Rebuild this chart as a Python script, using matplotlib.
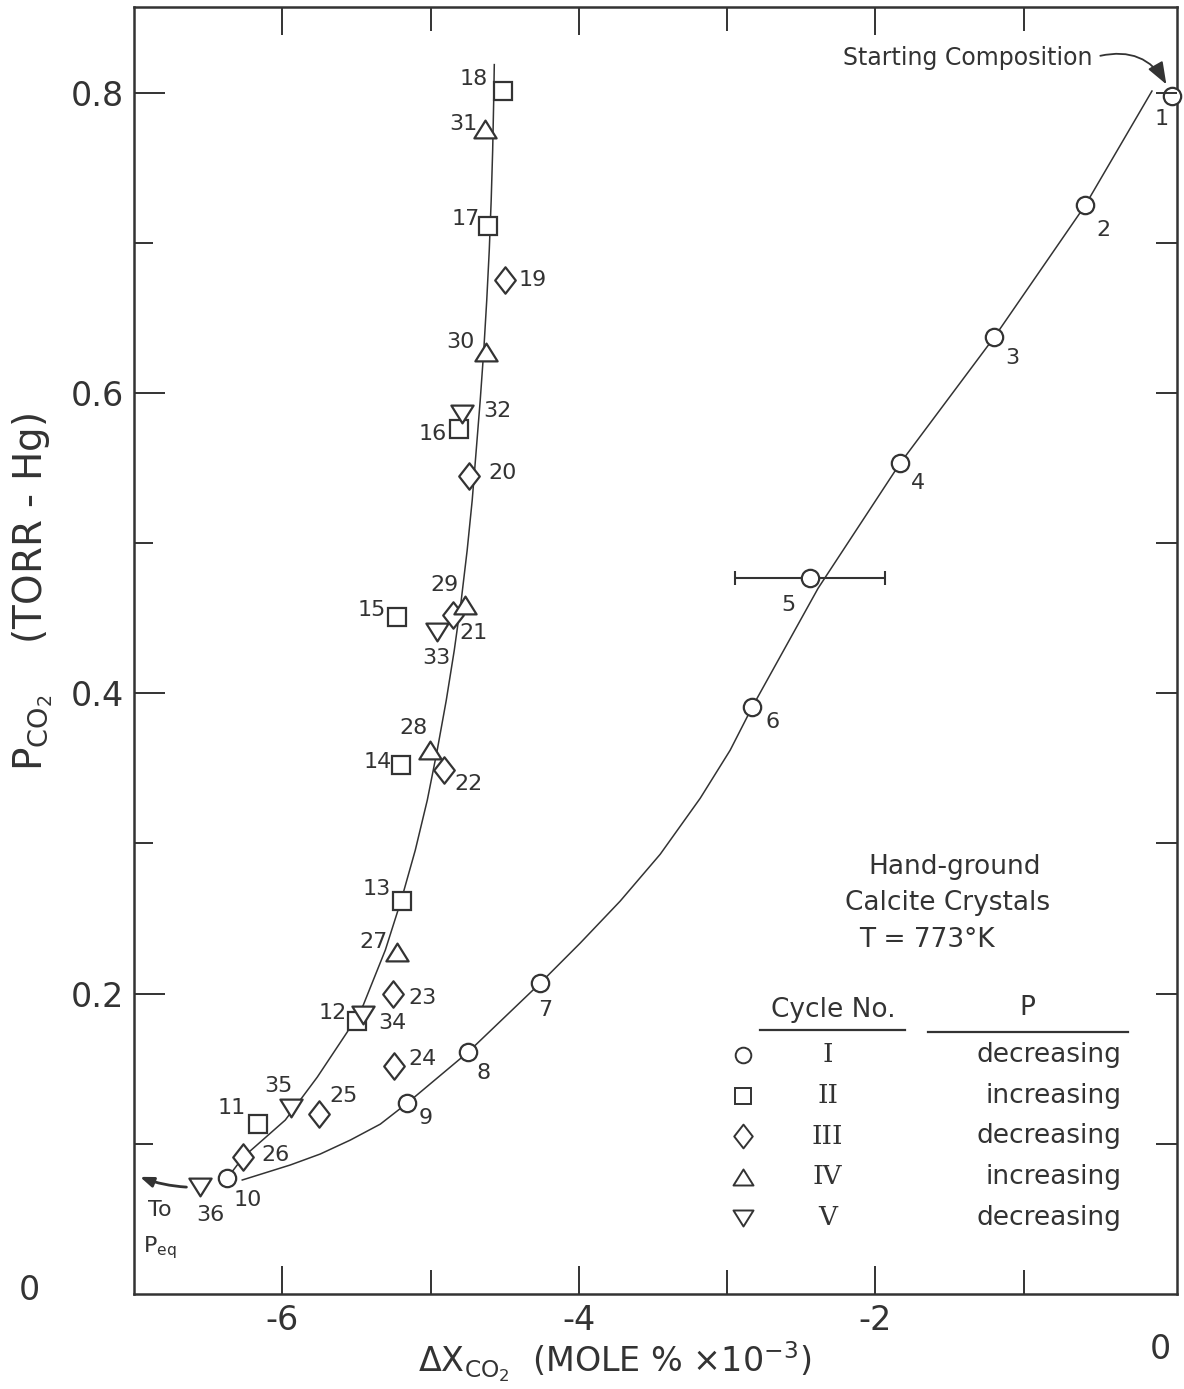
import numpy as np
import matplotlib
matplotlib.use("Agg")
import matplotlib.pyplot as plt
from matplotlib.path import Path

plt.rcParams['font.family'] = ['DejaVu Sans']
plt.rcParams['mathtext.default'] = 'regular'
plt.rcParams['axes.unicode_minus'] = False

INK = '#333333'

# Cycle I (circles), points 1-10
c1_n = [1, 2, 3, 4, 5, 6, 7, 8, 9, 10]
c1_x = [0.0, -0.585, -1.199, -1.833, -2.44, -2.831, -4.26, -4.746, -5.157, -6.371]
c1_y = [0.798, 0.725, 0.637, 0.553, 0.477, 0.391, 0.207, 0.161, 0.127, 0.077]

# Cycle II (squares), points 11-18
c2_n = [11, 12, 13, 14, 15, 16, 17, 18]
c2_x = [-6.162, -5.494, -5.191, -5.198, -5.225, -4.806, -4.611, -4.510]
c2_y = [0.113, 0.182, 0.262, 0.352, 0.451, 0.576, 0.711, 0.801]

# Cycle III (diamonds), points 19-26
c3_n = [19, 20, 21, 22, 23, 24, 25, 26]
c3_x = [-4.496, -4.739, -4.847, -4.908, -5.252, -5.245, -5.751, -6.263]
c3_y = [0.675, 0.545, 0.452, 0.349, 0.200, 0.152, 0.120, 0.091]

# Cycle IV (up triangles), points 27-31
c4_n = [27, 28, 29, 30, 31]
c4_x = [-5.225, -5.002, -4.766, -4.624, -4.631]
c4_y = [0.228, 0.362, 0.459, 0.627, 0.776]

# Cycle V (down triangles), points 32-36
c5_n = [32, 33, 34, 35, 36]
c5_x = [-4.786, -4.955, -5.454, -5.939, -6.553]
c5_y = [0.586, 0.441, 0.186, 0.124, 0.071]

# spread on point 5
p5_xlo, p5_xhi = -2.945, -1.934

# hand-drawn curves through the cycles
curve1_x = [-6.270, -5.946, -5.744, -5.541, -5.339, -5.157, -4.746, -4.260,
            -3.991, -3.721, -3.451, -3.181, -2.979, -2.831, -2.386, -1.833,
            -1.199, -0.585, -0.134]
curve1_y = [0.0759, 0.0859, 0.0932, 0.1025, 0.1131, 0.1271, 0.1611, 0.2070,
            0.2336, 0.2616, 0.2928, 0.3301, 0.3621, 0.3907, 0.4699, 0.5531,
            0.6369, 0.7248, 0.8010]
curve2_x = [-6.371, -6.263, -5.980, -5.764, -5.562, -5.454, -5.305, -5.198,
            -5.103, -5.022, -4.955, -4.894, -4.840, -4.793, -4.753, -4.719,
            -4.692, -4.665, -4.641, -4.621, -4.604, -4.591, -4.581, -4.574,
            -4.570]
curve2_y = [0.0772, 0.0912, 0.1158, 0.1444, 0.1744, 0.1923, 0.2290, 0.2622,
            0.2955, 0.3288, 0.3621, 0.3953, 0.4286, 0.4619, 0.4952, 0.5285,
            0.5617, 0.5950, 0.6283, 0.6616, 0.6948, 0.7281, 0.7614, 0.7947,
            0.8186]

cycle_names = ['I', 'II', 'III', 'IV', 'V']
cycle_dirs = ['decreasing', 'increasing', 'decreasing', 'increasing', 'decreasing']

# label offsets in pixels (dx, dy) for each numbered point
label_off = {
    1: (-10, -23), 2: (18, -25), 3: (18, -21), 4: (18, -20), 5: (-22, -27),
    6: (20, -15), 7: (5, -27), 8: (15, -21), 9: (18, -15), 10: (20, -22),
    11: (-27, 16), 12: (-25, 8), 13: (-26, 12), 14: (-23, 3), 15: (-25, 7),
    16: (-27, -5), 17: (-23, 7), 18: (-30, 12), 19: (27, 0), 20: (33, 3),
    21: (20, -18), 22: (24, -14), 23: (29, -4), 24: (28, 7), 25: (24, 18),
    26: (32, 2), 27: (-24, 10), 28: (-17, 22), 29: (-21, 20), 30: (-26, 10),
    31: (-22, 5), 32: (35, 3), 33: (-1, -26), 34: (29, -8), 35: (-13, 22),
    36: (10, -28),
}

diamond = Path([(0, 1), (0.78, 0), (0, -1), (-0.78, 0), (0, 1)],
               [Path.MOVETO, Path.LINETO, Path.LINETO, Path.LINETO, Path.CLOSEPOLY])
tri_up = Path([(0, 0.8), (1, -0.8), (-1, -0.8), (0, 0.8)],
              [Path.MOVETO, Path.LINETO, Path.LINETO, Path.CLOSEPOLY])
tri_dn = Path([(0, -0.8), (1, 0.8), (-1, 0.8), (0, -0.8)],
              [Path.MOVETO, Path.LINETO, Path.LINETO, Path.CLOSEPOLY])

styles = [('o', 12.5), ('s', 12.5), (diamond, 19), (tri_up, 16), (tri_dn, 16)]

fig = plt.figure(figsize=(11.84, 13.89), dpi=100)
ax = fig.add_axes([0.1132, 0.0684, 0.8809, 0.9266])
ax.set_xlim(-7.0, 0.035)
ax.set_ylim(0, 0.857)

ax.plot(curve1_x, curve1_y, color=INK, lw=1.1, zorder=2)
ax.plot(curve2_x, curve2_y, color=INK, lw=1.1, zorder=2)

ax.errorbar([c1_x[4]], [c1_y[4]],
            xerr=[[c1_x[4] - p5_xlo], [p5_xhi - c1_x[4]]],
            fmt='none', ecolor=INK, elinewidth=1.5, capsize=5, capthick=1.5, zorder=2)

series = [(c1_n, c1_x, c1_y), (c2_n, c2_x, c2_y), (c3_n, c3_x, c3_y),
          (c4_n, c4_x, c4_y), (c5_n, c5_x, c5_y)]
for (nums, xs, ys), (mk, ms) in zip(series, styles):
    ax.plot(xs, ys, linestyle='none', marker=mk, ms=ms, mfc='white',
            mec=INK, mew=1.6, zorder=3, clip_on=False)
    for n, x, y in zip(nums, xs, ys):
        dx, dy = label_off[n]
        ax.annotate(str(n), (x, y), xytext=(dx, dy), textcoords='offset pixels',
                    ha='center', va='center', fontsize=16, color=INK)

# axes frame and ticks
for s in ax.spines.values():
    s.set_linewidth(1.8)
    s.set_color(INK)
ax.set_xticks([-6, -4, -2])
ax.set_xticks([-5, -3, -1], minor=True)
ax.set_yticks([0.2, 0.4, 0.6, 0.8])
ax.set_yticks([0.1, 0.3, 0.5, 0.7], minor=True)
ax.set_yticklabels(['0.2', '0.4', '0.6', '0.8'])
ax.tick_params(which='both', direction='in', top=True, right=False,
               color=INK, width=1.4, labelcolor=INK, labelsize=24)
ax.tick_params(axis='x', which='major', length=20, pad=7)
ax.tick_params(axis='x', which='minor', length=17)
ax.tick_params(axis='y', which='major', length=22, pad=7)
ax.tick_params(axis='y', which='minor', length=14)

ax_r = ax.twinx()
ax_r.set_ylim(ax.get_ylim())
ax_r.set_yticks([0.1, 0.2, 0.3, 0.4, 0.5, 0.6, 0.7, 0.8])
ax_r.tick_params(direction='in', length=15, width=1.4, color=INK, labelright=False)
for s in ax_r.spines.values():
    s.set_visible(False)

ax.text(-0.1007, 0.0031, '0', transform=ax.transAxes, ha='center', va='center',
        fontsize=24, color=INK)
ax.text(0.9837, -0.0435, '0', transform=ax.transAxes, ha='center', va='center',
        fontsize=24, color=INK)

ax.set_xlabel(r'$\Delta$X$_{CO_2}$  (MOLE % $\times$10$^{-3}$)', fontsize=24,
              color=INK, va='center')
ax.xaxis.set_label_coords(0.461, -0.0525)
ax.set_ylabel(r'P$_{CO_2}$    (TORR - Hg)', fontsize=28, color=INK, va='center')
ax.yaxis.set_label_coords(-0.0968, 0.5455)

# starting composition note
ax.annotate('Starting Composition', xy=(c1_x[0], c1_y[0]), xytext=(0.799, 0.9604),
            textcoords='axes fraction', ha='center', va='center', fontsize=17,
            color=INK,
            arrowprops=dict(arrowstyle='-|>,head_length=0.8,head_width=0.3',
                            color=INK, lw=1.3, relpos=(1, 0.5), shrinkA=4,
                            shrinkB=9, connectionstyle='arc3,rad=-0.45'))

# arrow towards equilibrium pressure
ax.annotate('', xy=(-6.96, 0.078), xytext=(c5_x[-1], c5_y[-1]),
            arrowprops=dict(arrowstyle='-|>,head_length=0.8,head_width=0.3',
                            color=INK, lw=2.0, shrinkA=10, shrinkB=0,
                            connectionstyle='arc3,rad=-0.1'))
ax.text(0.025, 0.0653, 'To', transform=ax.transAxes, ha='center', va='center',
        fontsize=16, color=INK)
ax.text(0.025, 0.036, r'P$_{eq}$', transform=ax.transAxes, ha='center',
        va='center', fontsize=16, color=INK)

# sample description
ax.text(0.787, 0.3318, 'Hand-ground', transform=ax.transAxes, ha='center',
        va='center', fontsize=19, color=INK)
ax.text(0.780, 0.3038, 'Calcite Crystals', transform=ax.transAxes, ha='center',
        va='center', fontsize=19, color=INK)
ax.text(0.760, 0.2751, 'T = 773°K', transform=ax.transAxes, ha='center',
        va='center', fontsize=19, color=INK)

# legend table
ax.text(0.670, 0.2207, 'Cycle No.', transform=ax.transAxes, ha='center',
        va='center', fontsize=19, color=INK)
ax.plot([0.600, 0.739], [0.2051, 0.2051], transform=ax.transAxes, color=INK, lw=1.6)
ax.text(0.856, 0.2222, 'P', transform=ax.transAxes, ha='center', va='center',
        fontsize=19, color=INK)
ax.plot([0.761, 0.953], [0.2036, 0.2036], transform=ax.transAxes, color=INK, lw=1.6)
for i, ((mk, ms), name, d) in enumerate(zip(styles, cycle_names, cycle_dirs)):
    yy = 0.1857 - i * 0.0316
    ax.plot([0.584], [yy], transform=ax.transAxes, linestyle='none', marker=mk,
            ms=ms * 0.9, mfc='white', mec=INK, mew=1.4)
    ax.text(0.665, yy, name, transform=ax.transAxes, ha='center', va='center',
            fontsize=19, color=INK, family='DejaVu Serif')
    ax.text(0.947, yy, d, transform=ax.transAxes, ha='right', va='center',
            fontsize=19, color=INK)

fig.savefig('out.png', dpi=100)
